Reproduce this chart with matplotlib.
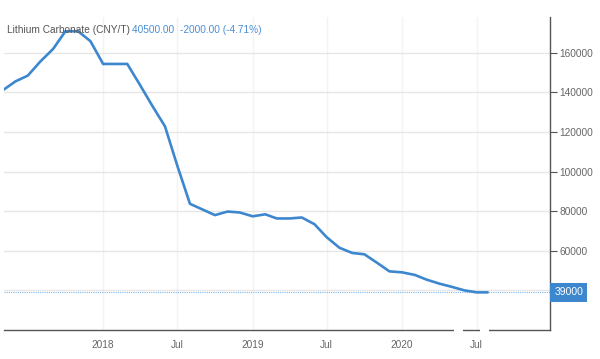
import pandas as pd
import matplotlib.pyplot as plt
from matplotlib.patches import Rectangle

plt.rcParams['font.family'] = 'Liberation Sans'

# monthly prices, CNY/T
months = list(pd.date_range('2017-05-01', '2020-07-01', freq='MS')) + [pd.Timestamp('2020-07-27')]
prices = [141000, 145500, 148400, 155600, 161900, 170800, 170800, 165800,
          154300, 154300, 154300, 143700, 133200, 122800, 103000, 83700,
          80800, 78000, 79800, 79300, 77400, 78400, 76300, 76300,
          76800, 73400, 66800, 61500, 58900, 58200, 53900, 49600,
          49100, 47800, 45400, 43400, 41800, 40000, 39000, 39000]
last_price = 39000
y_ticks = [40000, 60000, 80000, 100000, 120000, 140000, 160000]
x_ticks = ['2018-01-01', '2018-07-01', '2019-01-01', '2019-07-01', '2020-01-01', '2020-07-01']
x_labels = ['2018', 'Jul', '2019', 'Jul', '2020', 'Jul']

line_blue = '#3d87cf'
grey_txt = '#666666'

fig = plt.figure(figsize=(6, 3.59), dpi=100)
ax = fig.add_axes([4/600, 29/359, 546/600, 313/359])

ax.plot(months, prices, color=line_blue, lw=1.9, solid_joinstyle='round', zorder=3)
ax.axhline(last_price, color='#7fb6e8', lw=0.8, ls=(0, (1, 1)), zorder=2)

ax.set_xlim(pd.Timestamp('2017-05-04'), pd.Timestamp('2020-12-27'))
ax.set_ylim(20000, 178000)

ax.set_yticks(y_ticks)
ax.set_yticklabels(['' if v == 40000 else str(v) for v in y_ticks])
ax.yaxis.tick_right()
ax.tick_params(axis='y', direction='out', length=5, width=0.8, color='#555555',
               labelsize=7.3, labelcolor=grey_txt, pad=2)

ax.set_xticks([pd.Timestamp(d) for d in x_ticks])
ax.set_xticklabels(x_labels)
ax.tick_params(axis='x', length=0, labelsize=7.3, labelcolor=grey_txt, pad=7)

ax.grid(axis='y', color='#e6e6e6', lw=1.0)
ax.grid(axis='x', color='#f0f3f8', lw=1.0)
ax.set_axisbelow(True)

for s in ['top', 'left']:
    ax.spines[s].set_visible(False)
ax.spines['right'].set_color('#555555')
ax.spines['right'].set_linewidth(1.0)
ax.spines['bottom'].set_color('#555555')
ax.spines['bottom'].set_linewidth(1.0)

# last value marker on the right axis
ax.annotate(str(last_price), xy=(1, last_price), xycoords=('axes fraction', 'data'),
            xytext=(3, 0), textcoords='offset points', ha='left', va='center',
            fontsize=7.5, color='white',
            bbox=dict(boxstyle='square,pad=0.4', fc='#3d87cf', ec='none'),
            annotation_clip=False)

# header
t1 = ax.text(0.005, 0.96, 'Lithium Carbonate (CNY/T) ', transform=ax.transAxes,
             fontsize=7.3, color='#555555', va='center', ha='left')
fig.canvas.draw()
t2 = ax.annotate('40500.00  ', xycoords=t1, xy=(1, 0.5), va='center', ha='left',
                 fontsize=7.3, color='#4a8fd6')
fig.canvas.draw()
ax.annotate('-2000.00 (-4.71%)', xycoords=t2, xy=(1, 0.5), va='center', ha='left',
            fontsize=7.3, color='#4a8fd6')

# small gaps in the bottom axis line
for x0 in [454, 480]:
    fig.patches.append(Rectangle((x0/600, 24/359), 9/600, 8/359, transform=fig.transFigure,
                                 fc='white', ec='none', zorder=10))

fig.savefig('out.png', dpi=100)
